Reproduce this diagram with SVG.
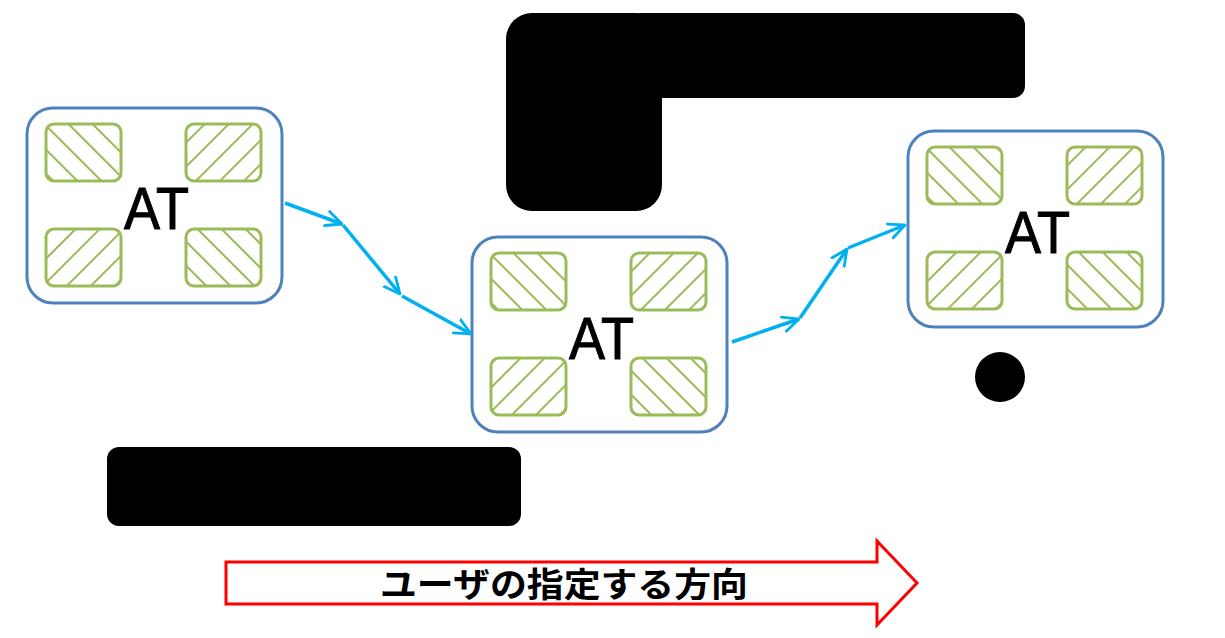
<svg xmlns="http://www.w3.org/2000/svg" width="1225" height="638" viewBox="0 0 1225 638">
<defs>
<pattern id="hb" patternUnits="userSpaceOnUse" width="17" height="17" patternTransform="rotate(-45)">
<line x1="1" y1="0" x2="1" y2="17" stroke="#9BBB59" stroke-width="2"/>
</pattern>
<pattern id="hf" patternUnits="userSpaceOnUse" width="17" height="17" patternTransform="rotate(45)">
<line x1="1" y1="0" x2="1" y2="17" stroke="#9BBB59" stroke-width="2"/>
</pattern>
<marker id="ah2" viewBox="0 0 18 18" refX="17" refY="9" markerWidth="18" markerHeight="18" markerUnits="userSpaceOnUse" orient="auto">
<path d="M1,1.5 L17,9 L1,16.5" fill="none" stroke="#00B0F0" stroke-width="2.8" stroke-linecap="round"/>
</marker>
</defs>
<style>
.outer{fill:#FFFFFF;stroke:#4F81BD;stroke-width:3}
.cell{stroke:#9BBB59;stroke-width:3}
.b{fill:url(#hb)}
.f{fill:url(#hf)}
.at{font-family:"Liberation Sans",Arial,sans-serif;font-size:60px;fill:#000000;stroke:#000000;stroke-width:1}
.conn{fill:none;stroke:#00B0F0;stroke-width:3.5;marker-end:url(#ah2)}
.red{font-family:"Noto Sans CJK JP","Noto Sans CJK SC",sans-serif;font-weight:bold;font-size:34px;fill:#000000}
</style>
<rect width="1225" height="638" fill="#FFFFFF"/>

<g id="redact">
<rect x="506" y="13" width="156" height="198" rx="26" fill="#000000"/>
<rect x="630" y="13" width="395" height="85" rx="12" fill="#000000"/>
<rect x="107" y="447" width="414" height="79" rx="12" fill="#000000"/>
<circle cx="1000" cy="377" r="25" fill="#000000"/>
</g>

<g id="node1" transform="translate(27,108)">
<rect class="outer" x="0" y="0" width="255" height="195" rx="26"/>
<rect x="19" y="16" width="75" height="57" rx="8" fill="#FFFFFF"/>
<rect class="cell b" x="19" y="16" width="75" height="57" rx="8"/>
<rect x="159" y="16" width="75" height="57" rx="8" fill="#FFFFFF"/>
<rect class="cell f" x="159" y="16" width="75" height="57" rx="8"/>
<rect x="19" y="121" width="75" height="57" rx="8" fill="#FFFFFF"/>
<rect class="cell f" x="19" y="121" width="75" height="57" rx="8"/>
<rect x="159" y="121" width="75" height="57" rx="8" fill="#FFFFFF"/>
<rect class="cell b" x="159" y="121" width="75" height="57" rx="8"/>
<text class="at" x="97" y="121" textLength="65" lengthAdjust="spacingAndGlyphs">AT</text>
</g>

<g id="node2" transform="translate(472,237)">
<rect class="outer" x="0" y="0" width="255" height="195" rx="26"/>
<rect x="19" y="16" width="75" height="57" rx="8" fill="#FFFFFF"/>
<rect class="cell b" x="19" y="16" width="75" height="57" rx="8"/>
<rect x="159" y="16" width="75" height="57" rx="8" fill="#FFFFFF"/>
<rect class="cell f" x="159" y="16" width="75" height="57" rx="8"/>
<rect x="19" y="121" width="75" height="57" rx="8" fill="#FFFFFF"/>
<rect class="cell f" x="19" y="121" width="75" height="57" rx="8"/>
<rect x="159" y="121" width="75" height="57" rx="8" fill="#FFFFFF"/>
<rect class="cell b" x="159" y="121" width="75" height="57" rx="8"/>
<text class="at" x="97" y="122" textLength="65" lengthAdjust="spacingAndGlyphs">AT</text>
</g>

<g id="node3" transform="translate(908,131)">
<rect class="outer" x="0" y="0" width="255" height="196" rx="26"/>
<rect x="19" y="16" width="75" height="57" rx="8" fill="#FFFFFF"/>
<rect class="cell b" x="19" y="16" width="75" height="57" rx="8"/>
<rect x="159" y="16" width="75" height="57" rx="8" fill="#FFFFFF"/>
<rect class="cell f" x="159" y="16" width="75" height="57" rx="8"/>
<rect x="19" y="121" width="75" height="57" rx="8" fill="#FFFFFF"/>
<rect class="cell f" x="19" y="121" width="75" height="57" rx="8"/>
<rect x="159" y="121" width="75" height="57" rx="8" fill="#FFFFFF"/>
<rect class="cell b" x="159" y="121" width="75" height="57" rx="8"/>
<text class="at" x="97" y="122" textLength="65" lengthAdjust="spacingAndGlyphs">AT</text>
</g>

<g id="connectors">
<line class="conn" x1="285" y1="203" x2="342" y2="224"/>
<line class="conn" x1="343" y1="225" x2="400" y2="294"/>
<line class="conn" x1="402" y1="296" x2="471" y2="334"/>
<line class="conn" x1="732" y1="342" x2="799" y2="319"/>
<line class="conn" x1="800" y1="318" x2="847" y2="249"/>
<line class="conn" x1="848" y1="248" x2="905" y2="225"/>
</g>

<g id="direction">
<path d="M226,562 L877,562 L877,541 L917,583 L877,625 L877,604 L226,604 Z" fill="#FFFFFF" stroke="#FF0000" stroke-width="3"/>
<text class="red" x="380" y="597" textLength="368" lengthAdjust="spacingAndGlyphs">ユーザの指定する方向</text>
</g>
</svg>
